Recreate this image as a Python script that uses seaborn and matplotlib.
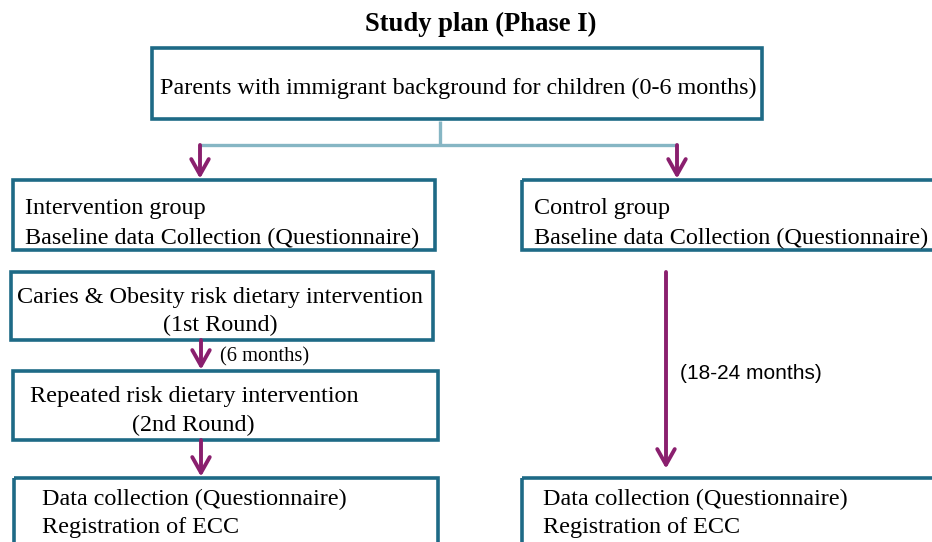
import matplotlib
matplotlib.use("Agg")
import matplotlib.pyplot as plt
import seaborn as sns
from matplotlib.patches import Rectangle

# ---- content ----
title = "Study plan (Phase I)"
top_text = ["Parents with immigrant background for children (0-6 months)"]
intervention_text = ["Intervention group", "Baseline data Collection (Questionnaire)"]
control_text = ["Control group", "Baseline data Collection (Questionnaire)"]
round1_text = ["Caries & Obesity risk dietary intervention", "(1st Round)"]
round2_text = ["Repeated risk dietary intervention", "(2nd Round)"]
final_text = ["Data collection (Questionnaire)", "Registration of ECC"]
gap_label_left = "(6 months)"
gap_label_right = "(18-24 months)"

sns.set_theme(style="white")
plt.rcParams['font.family'] = ['Liberation Serif', 'DejaVu Serif']
plt.rcParams['text.color'] = 'black'

W, H = 932, 542
fig = plt.figure(figsize=(W / 100, H / 100), dpi=100)
ax = fig.add_axes([0, 0, 1, 1])
ax.set_xlim(0, W)
ax.set_ylim(H, 0)
ax.axis("off")

EDGE = "#1e6a86"
PURPLE = "#8a1f6e"
CONN = "#86b6c4"
FS = 17.4
DY = 2.5

def box(x0, y0, x1, y1):
    ax.add_patch(Rectangle((x0, y0), x1 - x0, y1 - y0, fill=False,
                           edgecolor=EDGE, linewidth=2.6, clip_on=True))

def arrow(x, y0, y1):
    ax.annotate("", xy=(x, y1), xytext=(x, y0),
                arrowprops=dict(arrowstyle="->,head_length=0.8,head_width=0.45",
                                mutation_scale=14, color=PURPLE, lw=2.8,
                                shrinkA=0, shrinkB=1))

def t(x, y, s, ha="left", fs=FS, **kw):
    ax.text(x, y + DY, s, ha=ha, va="center", fontsize=fs, color="black", **kw)

# title
t(481, 22, title, ha="center", fs=19.2, fontweight="bold")

# top box
box(152, 48, 762, 119)
t(458, 86, top_text[0], ha="center")

# connector
ax.plot([440, 440], [121, 145], color=CONN, lw=2.4, solid_capstyle="butt")
ax.plot([199, 678], [145, 145], color=CONN, lw=2.4, solid_capstyle="butt")
arrow(200, 145, 180)
arrow(677, 145, 180)

# intervention / control boxes
box(13, 180, 435, 250)
t(25, 206, intervention_text[0])
t(25, 236, intervention_text[1])

box(522, 180, 940, 250)
t(534, 206, control_text[0])
t(534, 236, control_text[1])

# round 1
box(11, 272, 433, 340)
t(220, 295, round1_text[0], ha="center")
t(220, 323, round1_text[1], ha="center")

arrow(201, 340, 371)
t(220, 354, gap_label_left, fs=14.8)

# round 2
box(13, 371, 438, 440)
t(30, 394, round2_text[0])
t(193, 423, round2_text[1], ha="center")

arrow(201, 440, 478)

# final boxes
box(14, 478, 438, 560)
t(42, 497, final_text[0])
t(42, 525, final_text[1])

box(522, 478, 940, 560)
t(543, 497, final_text[0])
t(543, 525, final_text[1])

# control arrow
arrow(666, 272, 470)
t(680, 371, gap_label_right, fs=15, family=['Liberation Sans', 'DejaVu Sans'])

fig.savefig("out.png", dpi=100)
